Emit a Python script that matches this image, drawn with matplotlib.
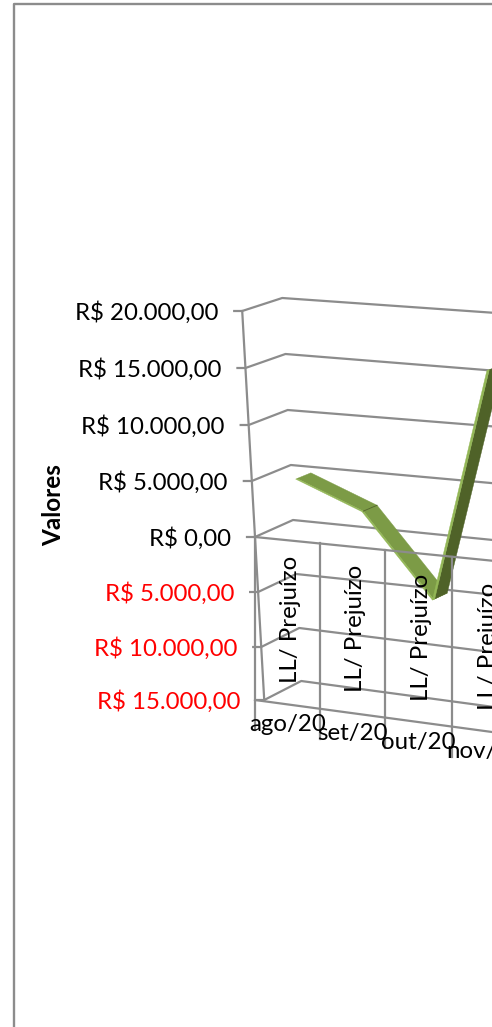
import numpy as np
import matplotlib
matplotlib.use('Agg')
import matplotlib.pyplot as plt

# values
months = ['ago/20', 'set/20', 'out/20', 'nov/20']
series_name = 'LL/ Prejuízo'
lucro = [5000, 2640, -4670, 16000]
levels = [-15000, -10000, -5000, 0, 5000, 10000, 15000, 20000]

GRID = '#8c8c8c'
TOP = '#7c9b46'
EDGE = '#93b756'
DARK = '#4f6228'
LW = 1.6

plt.rcParams['font.family'] = ['Lato', 'DejaVu Sans']

# 3D box geometry, pixels: y of front wall, depth shift and line slope per level
front_y = [700, 647, 592, 537, 481, 425, 368, 311]
depth_dx = [37, 38, 38, 38, 39, 39, 40, 40]
depth_dy = [-19, -19, -18, -17, -16, -15, -14, -13]
slope = [.135, .125, .105, .10, .09, .08, .08, .07]
TILT = 0.0566


def x_front(c):
    return 255 + 64 * c + 0.5 * c * c


def project(c, v, d):
    yl = np.interp(v, levels, front_y)
    x = x_front(c) + TILT * (yl - 537) + d * np.interp(v, levels, depth_dx)
    y = yl + np.interp(v, levels, slope) * (x_front(c) - 255) + d * np.interp(v, levels, depth_dy)
    return x, y


def money(v):
    s = f'{abs(v):,.2f}'.replace(',', 'X').replace('.', ',').replace('X', '.')
    return 'R$ ' + s


def ribbon(ax, i, d0, d1, color, z):
    a0 = project(i + 0.5, lucro[i], d0)
    a1 = project(i + 0.5, lucro[i], d1)
    b1 = project(i + 1.5, lucro[i + 1], d1)
    b0 = project(i + 1.5, lucro[i + 1], d0)
    xs, ys = zip(a0, a1, b1, b0)
    ax.fill(xs, ys, color=color, lw=0.3, zorder=z)


fig = plt.figure(figsize=(4.92, 10.27), dpi=100)
ax = fig.add_axes([0, 0, 1, 1])
ax.set_xlim(0, 492)
ax.set_ylim(1027, 0)
ax.axis('off')

# outer chart frame
ax.plot([14, 14, 492], [1027, 4, 4], color=GRID, lw=1.7, zorder=1)

# walls
far = 3.95
for k, v in enumerate(levels):
    xf, yf = project(0, v, 0)
    xb, yb = project(0, v, 1)
    xr, yr = project(far, v, 1)
    ax.plot([xf - 8, xf, xb, xr], [yf, yf, yb, yr], color=GRID, lw=LW, zorder=2)
    ax.text(xf - 24, yf + 2, money(v), ha='right', va='center', fontsize=17.3,
            color='red' if v < 0 else 'black', zorder=6)

# value axis
x0, y0 = project(0, levels[-1], 0)
x1, y1 = project(0, levels[0], 0)
ax.plot([x0, x1], [y0, y1], color=GRID, lw=LW, zorder=2)

# the series
for i in range(len(lucro) - 1):
    rising = lucro[i + 1] > lucro[i]
    split = 0.36 if rising else 0.335
    ribbon(ax, i, split, 0.69, DARK if rising else TOP, 3 + i * 0.1)
    ribbon(ax, i, 0.30, split, EDGE, 3.05 + i * 0.1)
sx, sy = zip(project(1.5, lucro[1], 0.335), project(1.5, lucro[1], 0.69))
ax.plot(sx, sy, color=DARK, lw=0.6, zorder=3.5)

# front plane lines go over the ribbon
xl = x_front(0)
xz, yz = project(far, 0, 0)
ax.plot([xl, x_front(far)], [537, yz], color=GRID, lw=LW, zorder=4)
ybase = [project(c, levels[0], 0)[1] for c in (0, far)]
ax.plot([xl, x_front(far)], ybase, color=GRID, lw=LW, zorder=4)
for c in range(len(months)):
    x = x_front(c)
    ax.plot([x, x], [project(c, 0, 0)[1], project(c, levels[0], 0)[1] + 30],
            color=GRID, lw=LW, zorder=4)

# category and series labels
for i, m in enumerate(months):
    x = x_front(i + 0.5)
    ym = project(i + 0.5, levels[0], 0)[1]
    ax.text(x, ym + 20, m, ha='center', va='center', fontsize=17.3, zorder=6)
    ax.text(x + 3, ym - 85, series_name, rotation=90, ha='center', va='center',
            fontsize=17.3, zorder=6)

ax.text(54, 505, 'Valores', rotation=90, ha='center', va='center',
        fontsize=17.5, fontweight='bold', zorder=6)

fig.savefig('out.png', dpi=100)
